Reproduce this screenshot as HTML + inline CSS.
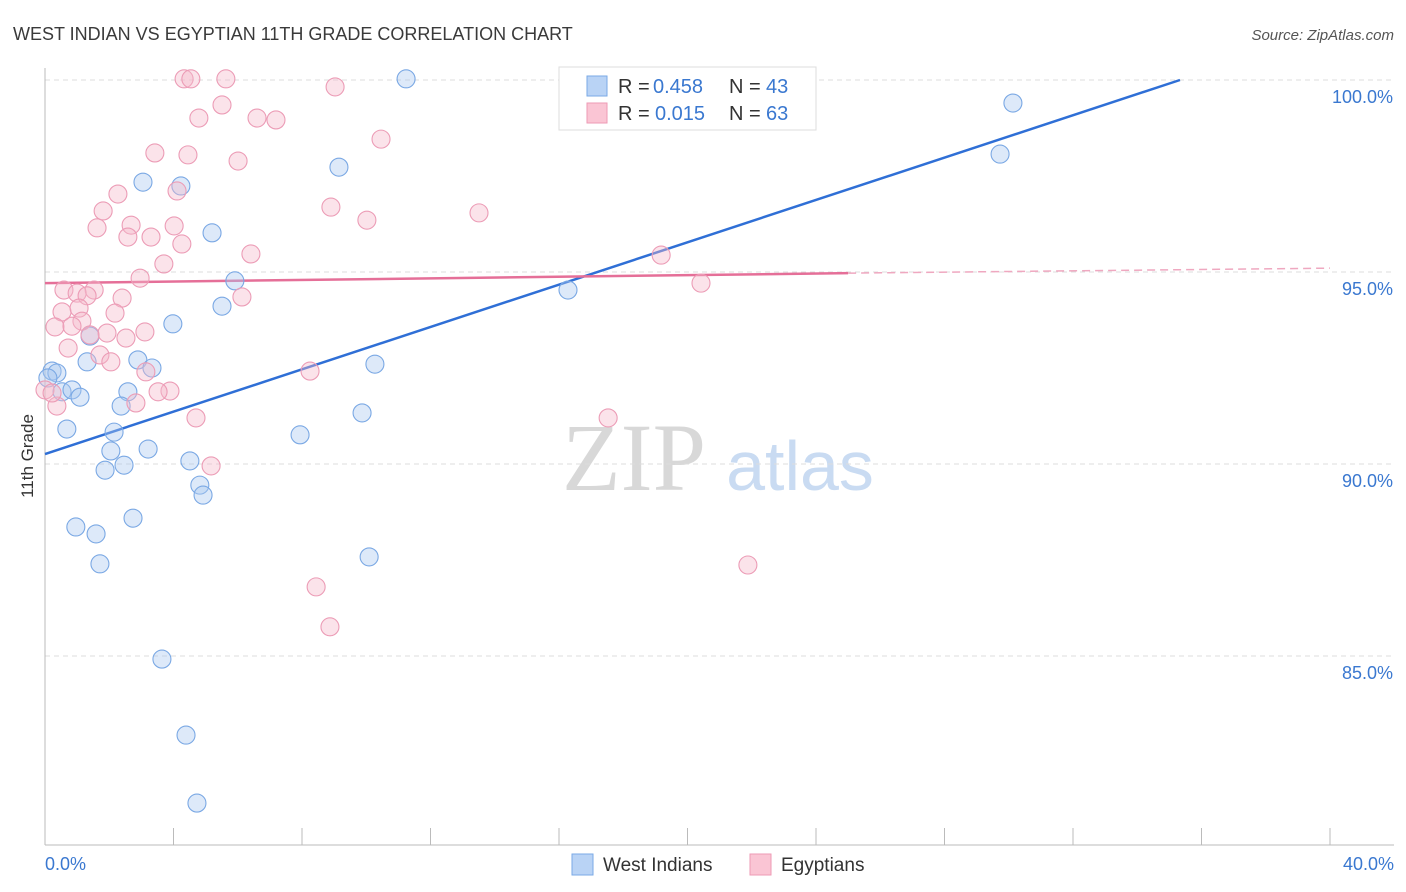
<!DOCTYPE html>
<html><head><meta charset="utf-8">
<style>
body{margin:0;background:#fff;font-family:"Liberation Sans",sans-serif;}
svg{display:block}
</style></head><body>
<svg id="chart" width="1406" height="892" xmlns="http://www.w3.org/2000/svg" font-family="Liberation Sans, sans-serif">
<text x="13" y="40" font-size="18" fill="#3a3a3a">WEST INDIAN VS EGYPTIAN 11TH GRADE CORRELATION CHART</text>
<text x="1394" y="40" font-size="15" fill="#555" text-anchor="end" font-style="italic">Source: ZipAtlas.com</text>
<g>
<text x="634" y="490" font-size="96" fill="#d8d8d8" text-anchor="middle" font-family="Liberation Serif, serif">ZIP</text>
<text x="800" y="490" font-size="70" fill="#c9dbf2" text-anchor="middle">atlas</text>
</g>
<g id="grid"></g>
<g id="axes"></g>
<g id="lines"></g>
<g id="points"></g>
<text transform="translate(33,456) rotate(-90)" font-size="17" fill="#333" text-anchor="middle">11th Grade</text>
<g>
<rect x="559" y="67" width="257" height="63" fill="#fff" stroke="#ddd"/>
<rect x="587" y="76" width="20" height="20" fill="#b9d3f5" stroke="#7aaae6"/>
<rect x="587" y="103" width="20" height="20" fill="#fac5d4" stroke="#ee9ab5"/>
<text x="618" y="93" font-size="20" fill="#333">R =</text>
<text x="653" y="93" font-size="20" fill="#3a78d0">0.458</text>
<text x="729" y="93" font-size="20" fill="#333">N =</text>
<text x="766" y="93" font-size="20" fill="#3a78d0">43</text>
<text x="618" y="120" font-size="20" fill="#333">R =</text>
<text x="655" y="120" font-size="20" fill="#3a78d0">0.015</text>
<text x="729" y="120" font-size="20" fill="#333">N =</text>
<text x="766" y="120" font-size="20" fill="#3a78d0">63</text>
</g>
<g>
<rect x="572" y="854" width="21" height="21" fill="#b9d3f5" stroke="#7aaae6"/>
<text x="603" y="871" font-size="19" fill="#333">West Indians</text>
<rect x="750" y="854" width="21" height="21" fill="#fac5d4" stroke="#ee9ab5"/>
<text x="781" y="871" font-size="19" fill="#333">Egyptians</text>
</g>
</svg>
<script>
const yTicks=[100,95,90,85];
const yTickLabels=["100.0%","95.0%","90.0%","85.0%"];
const xTickLabels=["0.0%","40.0%"];
const bluePx=[[406,79],[1013,103],[1000,154],[339,167],[143,182],[181,186],[212,233],[235,281],[568,290],[222,306],[173,324],[90,336],[87,362],[138,360],[152,368],[375,364],[52,371],[57,373],[48,378],[62,392],[72,390],[80,397],[128,392],[121,406],[362,413],[67,429],[114,432],[300,435],[111,451],[148,449],[190,461],[105,470],[124,465],[200,485],[203,495],[133,518],[76,527],[96,534],[369,557],[100,564],[162,659],[186,735],[197,803]];
const pinkPx=[[184,79],[191,79],[226,79],[632,79],[335,87],[222,105],[199,118],[257,118],[276,120],[381,139],[155,153],[188,155],[238,161],[118,194],[177,191],[103,211],[331,207],[367,220],[479,213],[97,228],[131,225],[174,226],[128,237],[151,237],[182,244],[251,254],[661,255],[164,264],[140,278],[701,283],[64,290],[94,290],[77,293],[87,296],[122,298],[242,297],[62,312],[115,313],[79,308],[55,327],[82,321],[72,326],[145,332],[107,333],[126,338],[68,348],[100,355],[111,362],[146,372],[310,371],[170,391],[158,392],[57,406],[136,403],[196,418],[608,418],[211,466],[748,565],[316,587],[330,627],[45,390],[52,393],[90,335]];
const blueX=bluePx.map(p=>+((p[0]-45)/32.125).toFixed(2));
const blueY=bluePx.map(p=>+(100-(p[1]-80)/38.4).toFixed(2));
const pinkX=pinkPx.map(p=>+((p[0]-45)/32.125).toFixed(2));
const pinkY=pinkPx.map(p=>+(100-(p[1]-80)/38.4).toFixed(2));
const blueLine=[[0,90.26],[35.33,100]];
const pinkLine=[[0,94.71],[25,94.97],[40,95.10]];

const sx=v=>45+v*32.125, sy=v=>80+(100-v)*38.4;
const NS="http://www.w3.org/2000/svg";
function mk(tag,attrs,parent){const e=document.createElementNS(NS,tag);for(const k in attrs)e.setAttribute(k,attrs[k]);document.getElementById(parent).appendChild(e);return e;}
yTicks.forEach((t,i)=>{
 const g=mk('line',{x1:45,x2:1394,y1:sy(t),y2:sy(t),stroke:'#ddd','stroke-dasharray':'5,4'},'grid');
 
 
 const l=mk('text',{x:1393,y:sy(t)+23,'font-size':18,fill:'#3a78d0','text-anchor':'end'},'grid');
 l.textContent=yTickLabels[i];
 
 
});
const ax=mk('line',{x1:45,x2:45,y1:68,y2:845,stroke:'#bbb'},'axes');


const bx=mk('line',{x1:45,x2:1394,y1:845,y2:845,stroke:'#bbb'},'axes');


for(let i=0;i<=10;i++){const t=mk('line',{x1:sx(i*4),x2:sx(i*4),y1:828,y2:845,stroke:'#bbb'},'axes');
 
 }
[[0,'start',45],[1,'end',1394]].forEach(([i,a,x])=>{const t=mk('text',{x:x,y:870,'font-size':18,fill:'#3a78d0','text-anchor':a},'axes');t.textContent=xTickLabels[i];
 
 });
function dot(x,y,c){const e=mk('circle',{cx:sx(x),cy:sy(y),r:9,fill:c[0],'fill-opacity':0.4,stroke:c[1],'stroke-width':1.1},'points');return e;}
blueX.forEach((x,i)=>{const e=dot(x,blueY[i],['#a9c8f0','#7aa8e4']);
 
 });
pinkX.forEach((x,i)=>{const e=dot(x,pinkY[i],['#f6b8cb','#ec9cb6']);
 
 });
const b=mk('line',{x1:sx(blueLine[0][0]),y1:sy(blueLine[0][1]),x2:sx(blueLine[1][0]),y2:sy(blueLine[1][1]),stroke:'#2f6fd6','stroke-width':2.5},'lines');


const p1=mk('line',{x1:sx(pinkLine[0][0]),y1:sy(pinkLine[0][1]),x2:sx(pinkLine[1][0]),y2:sy(pinkLine[1][1]),stroke:'#e56f98','stroke-width':2.5},'lines');


const p2=mk('line',{x1:sx(pinkLine[1][0]),y1:sy(pinkLine[1][1]),x2:sx(pinkLine[2][0]),y2:sy(pinkLine[2][1]),stroke:'#efa8c0','stroke-width':1.5,'stroke-dasharray':'8,5'},'lines');


</script>
</body></html>
